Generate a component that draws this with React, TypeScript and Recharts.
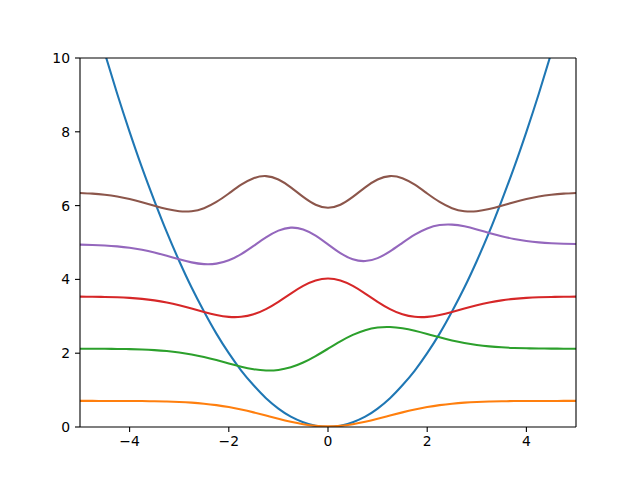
import { LineChart, Line, XAxis, YAxis, ReferenceLine } from "recharts";

// x positions (shared by every curve)
const xs = [
  -5, -4.75, -4.5, -4.25, -4, -3.75, -3.5, -3.25, -3, -2.75, -2.5, -2.25, -2,
  -1.75, -1.5, -1.25, -1, -0.75, -0.5, -0.25, 0, 0.25, 0.5, 0.75, 1, 1.25, 1.5,
  1.75, 2, 2.25, 2.5, 2.75, 3, 3.25, 3.5, 3.75, 4, 4.25, 4.5, 4.75, 5,
];

// potential well
const potential = [
  12.5, 11.28, 10.13, 9.03, 8, 7.03, 6.13, 5.28, 4.5, 3.78, 3.13, 2.53, 2,
  1.53, 1.13, 0.78, 0.5, 0.28, 0.13, 0.03, 0, 0.03, 0.13, 0.28, 0.5, 0.78,
  1.13, 1.53, 2, 2.53, 3.13, 3.78, 4.5, 5.28, 6.13, 7.03, 8, 9.03, 10.13,
  11.28, 12.5,
];

const level0 = [
  0.707, 0.707, 0.7066, 0.7059, 0.7047, 0.7023, 0.698, 0.6907, 0.6785, 0.6596,
  0.6315, 0.5921, 0.5396, 0.4738, 0.3962, 0.3107, 0.2234, 0.1425, 0.0766,
  0.0334, 0.0183, 0.0334, 0.0766, 0.1425, 0.2234, 0.3107, 0.3962, 0.4738,
  0.5396, 0.5921, 0.6315, 0.6596, 0.6785, 0.6907, 0.698, 0.7023, 0.7047,
  0.7059, 0.7066, 0.707, 0.707,
];

const level1 = [
  2.1207, 2.12, 2.1184, 2.1155, 2.1099, 2.1, 2.0836, 2.0577, 2.0193, 1.9659,
  1.8966, 1.8136, 1.723, 1.6358, 1.5667, 1.532, 1.5461, 1.6177, 1.7464, 1.921,
  2.1213, 2.3216, 2.4962, 2.6249, 2.6965, 2.7106, 2.6759, 2.6068, 2.5196,
  2.429, 2.3461, 2.2767, 2.2233, 2.1849, 2.159, 2.1426, 2.1327, 2.1272, 2.1242,
  2.1226, 2.1219,
];

const level2 = [
  3.5331, 3.5303, 3.5251, 3.5154, 3.4987, 3.4718, 3.431, 3.3733, 3.2984,
  3.2097, 3.1165, 3.0346, 2.9841, 2.986, 3.0558, 3.1964, 3.3938, 3.6171,
  3.8237, 3.9698, 4.0226, 3.9698, 3.8237, 3.6171, 3.3938, 3.1964, 3.0558,
  2.986, 2.9841, 3.0346, 3.1165, 3.2097, 3.2984, 3.3733, 3.431, 3.4718, 3.4987,
  3.5154, 3.5251, 3.5303, 3.5331,
];

const level3 = [
  4.9419, 4.934, 4.9198, 4.8959, 4.8581, 4.8029, 4.7292, 4.6398, 4.5447,
  4.4614, 4.414, 4.4271, 4.5177, 4.6859, 4.9085, 5.1398, 5.3221, 5.4029,
  5.3548, 5.1878, 4.9497, 4.7116, 4.5446, 4.4965, 4.5773, 4.7596, 4.9909,
  5.2135, 5.3817, 5.4723, 5.4854, 5.438, 5.3547, 5.2597, 5.1702, 5.0965,
  5.0413, 5.0035, 4.9796, 4.9655, 4.9576,
];

const level4 = [
  6.3428, 6.324, 6.2929, 6.2454, 6.1779, 6.092, 5.9957, 5.9055, 5.8468,
  5.8478, 5.9305, 6.0987, 6.3278, 6.5653, 6.7427, 6.799, 6.7081, 6.4954,
  6.2348, 6.0233, 5.9422, 6.0233, 6.2348, 6.4954, 6.7081, 6.799, 6.7427,
  6.5653, 6.3278, 6.0987, 5.9305, 5.8478, 5.8468, 5.9055, 5.9957, 6.092,
  6.1779, 6.2454, 6.2929, 6.324, 6.3428,
];

const xTicks = [-4, -2, 0, 2, 4];
const yTicks = [0, 2, 4, 6, 8, 10];

const data = xs.map((x, i) => ({
  x,
  v: potential[i],
  e0: level0[i],
  e1: level1[i],
  e2: level2[i],
  e3: level3[i],
  e4: level4[i],
}));

const font = "'DejaVu Sans', sans-serif";
const tickStyle = { fill: "#000", fontSize: 13.9, fontFamily: font };
const minus = (v: number) => String(v).replace("-", "\u2212");
const lw = 2.08;

export default function App() {
  return (
    <div style={{ position: "absolute", left: 0, top: 0, background: "#fff" }}>
      <LineChart
        width={640}
        height={480}
        data={data}
        margin={{ top: 58, right: 64, bottom: 23, left: 40 }}
      >
        <XAxis
          dataKey="x"
          type="number"
          domain={[-5, 5]}
          ticks={xTicks}
          allowDataOverflow
          height={30}
          tickSize={5}
          tickMargin={4}
          tick={tickStyle}
          tickFormatter={minus}
          axisLine={{ stroke: "#000", strokeWidth: 1.1 }}
          tickLine={{ stroke: "#000", strokeWidth: 1.1 }}
        />
        <YAxis
          type="number"
          domain={[0, 10]}
          ticks={yTicks}
          allowDataOverflow
          width={40}
          tickSize={5}
          tickMargin={5}
          tick={tickStyle}
          axisLine={{ stroke: "#000", strokeWidth: 1.1 }}
          tickLine={{ stroke: "#000", strokeWidth: 1.1 }}
        />
        <Line type="natural" dataKey="v" stroke="#1f77b4" strokeWidth={lw} dot={false} isAnimationActive={false} />
        <Line type="natural" dataKey="e0" stroke="#ff7f0e" strokeWidth={lw} dot={false} isAnimationActive={false} />
        <Line type="natural" dataKey="e1" stroke="#2ca02c" strokeWidth={lw} dot={false} isAnimationActive={false} />
        <Line type="natural" dataKey="e2" stroke="#d62728" strokeWidth={lw} dot={false} isAnimationActive={false} />
        <Line type="natural" dataKey="e3" stroke="#9467bd" strokeWidth={lw} dot={false} isAnimationActive={false} />
        <Line type="natural" dataKey="e4" stroke="#8c564b" strokeWidth={lw} dot={false} isAnimationActive={false} />
        {/* top and right frame edges */}
        <ReferenceLine y={10} stroke="#000" strokeWidth={1.1} />
        <ReferenceLine x={5} stroke="#000" strokeWidth={1.1} />
      </LineChart>
    </div>
  );
}
